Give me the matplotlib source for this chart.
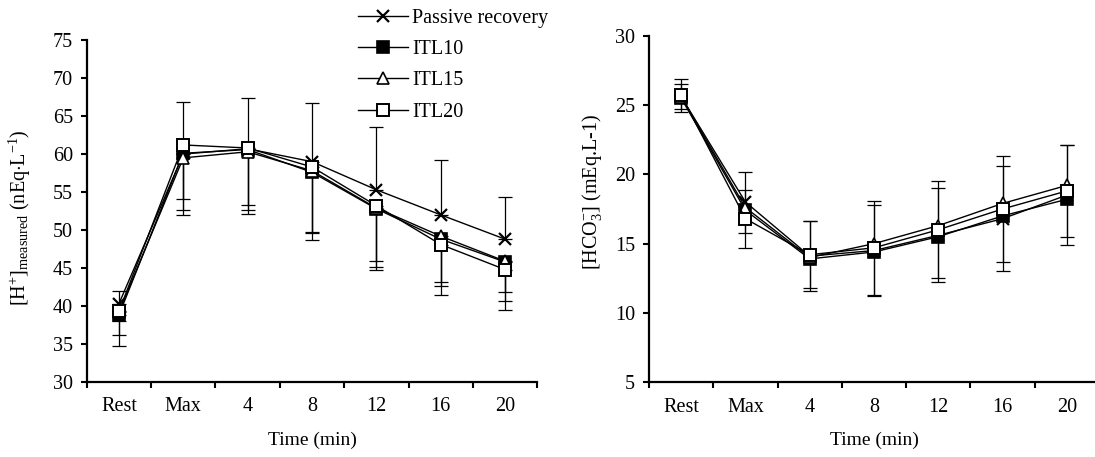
import matplotlib
matplotlib.use("Agg")
import matplotlib.pyplot as plt
from matplotlib.lines import Line2D
import numpy as np

plt.rcParams['font.family'] = ['Liberation Serif', 'DejaVu Serif']
plt.rcParams['mathtext.fontset'] = 'custom'
plt.rcParams['mathtext.rm'] = 'Liberation Serif'
plt.rcParams['mathtext.it'] = 'Liberation Serif:italic'

# categories
times = ["Rest", "Max", "4", "8", "12", "16", "20"]
series = ["Passive recovery", "ITL10", "ITL15", "ITL20"]

# [H+] measured (nEq/L)
h_passive = [40.3, 60.0, 60.7, 59.0, 55.3, 52.0, 48.8]
h_itl10 = [38.8, 60.1, 60.6, 57.6, 52.8, 48.8, 45.8]
h_itl15 = [39.2, 59.5, 60.3, 57.8, 52.9, 49.2, 45.9]
h_itl20 = [39.3, 61.2, 60.8, 58.3, 53.2, 48.1, 44.8]
# SD (passive drawn upward, ITL drawn downward)
h_sd_passive = [1.7, 6.9, 6.7, 7.7, 8.2, 7.2, 5.6]
h_sd_itl10 = [4.1, 8.1, 8.5, 8.9, 8.1, 7.4, 6.3]
h_sd_itl15 = [3.0, 6.9, 7.7, 8.2, 7.7, 6.6, 5.3]
h_sd_itl20 = [1.3, 7.1, 7.5, 8.5, 7.3, 4.9, 3.0]

# [HCO3-] (mEq/L)
b_passive = [25.6, 18.0, 14.1, 14.5, 15.6, 16.8, 18.5]
b_itl10 = [25.5, 17.4, 13.9, 14.4, 15.5, 17.0, 18.2]
b_itl15 = [25.6, 17.6, 14.0, 15.0, 16.3, 17.9, 19.2]
b_itl20 = [25.7, 16.8, 14.2, 14.7, 16.0, 17.5, 18.8]
b_sd_passive = [0.9, 2.2, 2.5, 3.3, 3.4, 3.8, 3.6]
b_sd_itl20 = [1.2, 2.1, 2.4, 3.4, 3.5, 3.8, 3.3]

styles = [
    dict(marker='x', mfc='black', mec='black', ms=8, mew=1.6),
    dict(marker='s', mfc='black', mec='black', ms=8.5, mew=1.2),
    dict(marker='^', mfc='white', mec='black', ms=8, mew=1.2),
    dict(marker='s', mfc='white', mec='black', ms=9, mew=1.4),
]

fig = plt.figure(figsize=(10.95, 4.57), dpi=100)
ax1 = fig.add_axes([0.0792, 0.164, 0.4115, 0.7483])
ax2 = fig.add_axes([0.5927, 0.1635, 0.4110, 0.7585])

x = np.arange(len(times))
eb = dict(fmt='none', ecolor='black', elinewidth=0.9, capsize=5, capthick=0.9)


def style_axis(ax, ylim, yticks, ylabel, labelx, labely):
    ax.set_xlim(-0.5, len(times) - 0.5)
    ax.set_ylim(*ylim)
    ax.set_yticks(yticks)
    ax.set_xticks(x)
    ax.set_xticklabels(times)
    ax.set_xticks(np.arange(len(times) + 1) - 0.5, minor=True)
    ax.tick_params(axis='x', which='major', length=0, pad=11, labelsize=14.5)
    ax.tick_params(axis='x', which='minor', length=4, width=1.5, direction='out')
    ax.tick_params(axis='y', length=4, width=1.5, direction='out', pad=6, labelsize=14.5)
    for s in ['top', 'right']:
        ax.spines[s].set_visible(False)
    for s in ['left', 'bottom']:
        ax.spines[s].set_linewidth(1.6)
    ax.set_xlabel("Time (min)", fontsize=14, labelpad=11)
    ax.set_ylabel(ylabel, fontsize=14.5)
    ax.yaxis.set_label_coords(labelx, labely)


# left panel
h_vals = [h_passive, h_itl10, h_itl15, h_itl20]
ax1.errorbar(x, h_passive, yerr=[np.zeros(7), h_sd_passive], **eb)
ax1.errorbar(x, h_itl10, yerr=[h_sd_itl10, np.zeros(7)], **eb)
ax1.errorbar(x, h_itl15, yerr=[h_sd_itl15, np.zeros(7)], **eb)
ax1.errorbar(x, h_itl20, yerr=[h_sd_itl20, np.zeros(7)], **eb)
for vals, st in zip(h_vals, styles):
    ax1.plot(x, vals, color='black', lw=1.0, **st)
style_axis(ax1, (30, 75), np.arange(30, 76, 5),
           r"[H$^{+}$]$_{\mathrm{measured}}$ (nEq$\cdot$L$^{-1}$)", -0.12, 0.48)

# right panel
b_vals = [b_passive, b_itl10, b_itl15, b_itl20]
ax2.errorbar(x, b_passive, yerr=b_sd_passive, **eb)
ax2.errorbar(x, b_itl20, yerr=b_sd_itl20, **eb)
for vals, st in zip(b_vals, styles):
    ax2.plot(x, vals, color='black', lw=1.0, **st)
style_axis(ax2, (5, 30), np.arange(5, 31, 5),
           r"[HCO$_{3}^{-}$] (mEq.L-1)", -0.10, 0.55)

handles = [Line2D([], [], color='black', lw=1.0, **st) for st in styles]
fig.legend(handles, series, loc='upper left', bbox_to_anchor=(0.310, 1.02),
           frameon=False, fontsize=14.5, handlelength=2.5, handletextpad=0.2,
           labelspacing=0.6)

fig.savefig("out.png", dpi=100)
